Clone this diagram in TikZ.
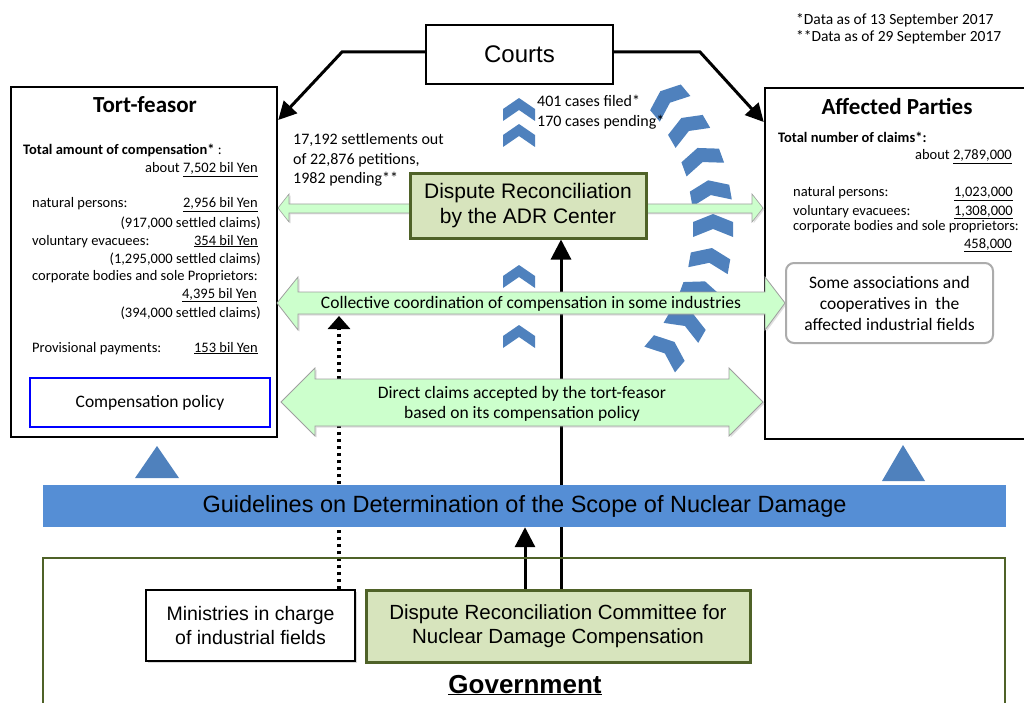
\documentclass[tikz,border=0pt]{standalone}
\usepackage{fontspec}
\setmainfont{Carlito}
\newfontfamily\arialfont{Liberation Sans}
\usetikzlibrary{arrows.meta,shadows,backgrounds}
\definecolor{chevblue}{HTML}{4F81BD}
\definecolor{barblue}{HTML}{558ED5}
\definecolor{adrfill}{HTML}{D7E4BD}
\definecolor{adrline}{HTML}{4F6228}
\definecolor{fatfill}{HTML}{CCFFCC}
\begin{document}
\begin{tikzpicture}[x=1pt,y=-1pt,
  party/.style={draw, line width=2.5pt, fill=white},
  small/.style={inner sep=0pt, font=\fontsize{14.5}{17}\selectfont},
  mid/.style={inner sep=0pt, font=\fontsize{16}{19}\selectfont},
  big/.style={inner sep=0pt, font=\fontsize{17.5}{21}\selectfont},
  head/.style={inner sep=0pt, font=\bfseries\fontsize{23}{27}\selectfont},
  chev/.style={fill=chevblue},
  fat/.style={fill=fatfill, draw=gray!75, line width=0.8pt, drop shadow={shadow xshift=1.5pt, shadow yshift=-1.5pt, opacity=0.25}},
  link/.style={line width=3pt, -{Triangle[width=20pt,length=20pt]}},
  courtlink/.style={line width=3pt, -{Triangle[width=18pt,length=18pt]}}]
\useasboundingbox (0,0) rectangle (1024,703);
\clip (0,0) rectangle (1024,703);
\node[party, minimum width=266pt, minimum height=350pt] (tort) at (144,262) {};
\node[party, minimum width=275pt, minimum height=351pt] (aff) at (902.5,263.5) {};
\node[draw, fill=white, line width=1.2pt, minimum width=187pt, minimum height=59pt, font=\arialfont\fontsize{24}{28}\selectfont] (courts) at (519.5,54.5) {Courts};
\foreach \y in {110,136,277,337}
  \fill[chev] (519,\y) ++(0,-12) -- ++(16,11) -- ++(0,12) -- ++(-16,-11) -- ++(-16,11) -- ++(0,-12) -- cycle;
\foreach \a/\b in {40/-40,30/-30,20/-20,10/-10,0/0,-10/10,-20/20,-30/30,-40/40}
  \fill[chev, shift={(518,225)}, shift={(\b:195)}, rotate=\a] (0,-11) -- (20,-3) -- (20,12) -- (0,4) -- (-20,12) -- (-20,-3) -- cycle;
\draw[fat, line width=0.6pt] (278,208) -- (289,194) -- (289,204) -- (752,204) -- (752,194) -- (763,208) -- (752,222) -- (752,213) -- (289,213) -- (289,222) -- cycle;
\node[draw=adrline, fill=adrfill, line width=3pt, minimum width=236pt, minimum height=64pt, inner sep=0pt, align=center, font=\arialfont\fontsize{21}{25}\selectfont] (adr) at (528,206) {Dispute Reconciliation\\by the ADR Center};
\draw[fat] (277,303) -- (298,277) -- (298,292) -- (765,292) -- (765,277) -- (785,303) -- (765,330) -- (765,314) -- (298,314) -- (298,330) -- cycle;
\draw[fat] (281,402) -- (315,368) -- (315,379) -- (729,379) -- (729,368) -- (763,402) -- (729,436) -- (729,426) -- (315,426) -- (315,436) -- cycle;
\node[big, anchor=base] (coll) at (531,308) {Collective coordination of compensation in some industries};
\node[big, align=center, font=\fontsize{17.5}{20}\selectfont] (direct) at (522,403.5) {Direct claims accepted by the tort-feasor\\based on its compensation policy};
\node[head, anchor=base] (tortname) at (145,113) {Tort-feasor};
\node[small, anchor=base west] (tortsum) at (23,155) {\textbf{Total amount of compensation*} :};
\node[small, anchor=base east] (tortabout) at (258,173) {about \underline{7,502 bil Yen}};
\node[small, anchor=base west] (tortnat) at (32,208) {natural persons:};
\node[small, anchor=base east] (tortnatv) at (258,208) {\underline{2,956 bil Yen}};
\node[small, anchor=base east] (tortnatc) at (261,227) {(917,000 settled claims)};
\node[small, anchor=base west] (tortvol) at (32,245) {voluntary evacuees:};
\node[small, anchor=base east] (tortvolv) at (258,245) {\underline{354 bil Yen}};
\node[small, anchor=base east] (tortvolc) at (261,263) {(1,295,000 settled claims)};
\node[small, anchor=base west] (tortcorp) at (32,280) {corporate bodies and sole Proprietors:};
\node[small, anchor=base east] (tortcorpv) at (257,298) {\underline{4,395 bil Yen}};
\node[small, anchor=base east] (tortcorpc) at (261,317) {(394,000 settled claims)};
\node[small, anchor=base west] (tortprov) at (32,352) {Provisional payments:};
\node[small, anchor=base east] (tortprovv) at (258,352) {\underline{153 bil Yen}};
\node[draw=blue, line width=2pt, minimum width=240pt, minimum height=49pt, big] (policy) at (150,402.5) {Compensation policy};
\node[head, anchor=base] (affname) at (897,115) {Affected Parties};
\node[small, anchor=base west] (affsum) at (778,143) {\textbf{Total number of claims*:}};
\node[small, anchor=base east] (affabout) at (1012,160) {about \underline{2,789,000}};
\node[small, anchor=base west] (affnat) at (793,197) {natural persons:};
\node[small, anchor=base east] (affnatv) at (1013,197) {\underline{1,023,000}};
\node[small, anchor=base west] (affvol) at (793,215) {voluntary evacuees:};
\node[small, anchor=base east] (affvolv) at (1013,215) {\underline{1,308,000}};
\node[small, anchor=base west] (affcorp) at (793,230) {corporate bodies and sole proprietors:};
\node[small, anchor=base east] (affcorpv) at (1012,248) {\underline{458,000}};
\node[draw=gray!65, line width=2pt, rounded corners=8pt, minimum width=207pt, minimum height=80pt, align=center, big] (assoc) at (889.5,303) {Some associations and\\cooperatives in\ \ the\\affected industrial fields};
\node[mid, anchor=base west, font=\fontsize{15.5}{18}\selectfont] (note1) at (796,25) {*Data as of 13 September 2017};
\node[mid, anchor=base west, font=\fontsize{15.5}{18}\selectfont] (note2) at (796,42) {**Data as of 29 September 2017};
\node[mid, anchor=base west] (settle1) at (293,145) {17,192 settlements out};
\node[mid, anchor=base west] (settle2) at (293,165) {of 22,876 petitions,};
\node[mid, anchor=base west] (settle3) at (293,184) {1982 pending**};
\node[mid, anchor=base west] (cases1) at (537,107) {401 cases filed*};
\node[mid, anchor=base west] (cases2) at (537,127) {170 cases pending*};
\node[fill=barblue, minimum width=963pt, minimum height=42pt, inner sep=0pt, font=\arialfont\fontsize{23.5}{27}\selectfont] (guide) at (524.5,506) {Guidelines on Determination of the Scope of Nuclear Damage};
\fill[chev] (135,478) -- (157,446) -- (179,478) -- cycle;
\fill[chev] (882,481) -- (903,445) -- (925,481) -- cycle;
\node[draw=adrline, line width=2pt, minimum width=962pt, minimum height=200pt] (gov) at (524,658) {};
\node[anchor=base, inner sep=0pt, font=\arialfont\bfseries\fontsize{26}{30}\selectfont] (govname) at (525,693) {\underline{Government}};
\node[draw, fill=white, line width=1.5pt, minimum width=209pt, minimum height=71pt, align=center, drop shadow={shadow xshift=2pt, shadow yshift=-2pt, opacity=0.3}, font=\arialfont\fontsize{19.5}{24}\selectfont] (mini) at (250.5,625.5) {Ministries in charge\\of industrial fields};
\node[draw=adrline, fill=adrfill, line width=3pt, minimum width=384pt, minimum height=72pt, align=center, font=\arialfont\fontsize{20.5}{24}\selectfont] (comm) at (558,626) {Dispute Reconciliation Committee for\\Nuclear Damage Compensation};
\coordinate (cl) at (342,52);
\coordinate (cr) at (700,52);
\coordinate (dotend) at (339,316);
\draw[courtlink] ([yshift=2.5pt]courts.west) -- (cl) -- (tort.east |- 0,120);
\draw[courtlink] ([yshift=2.5pt]courts.east) -- (cr) -- (aff.west |- 0,122);
\begin{scope}[on background layer]
\draw[link] ([xshift=3pt]comm.north) -- ([xshift=3pt]comm.north |- adr.south);
\draw[link] ([xshift=-33pt]comm.north) -- ([xshift=-33pt]comm.north |- guide.south);
\draw[line width=3.5pt, dash pattern=on 3.5pt off 3.5pt, -{Triangle[width=22pt,length=13pt]}] ([xshift=88.5pt]mini.north) -- (dotend);
\end{scope}
\end{tikzpicture}
\end{document}
